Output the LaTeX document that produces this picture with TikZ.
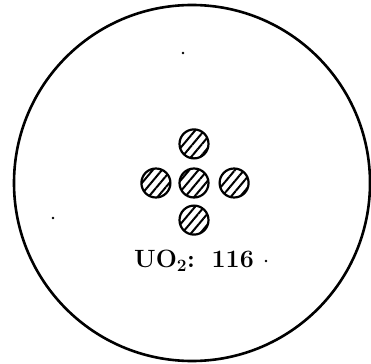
\documentclass[tikz,border=0pt]{standalone}
\usepackage{tikz}
\usetikzlibrary{positioning,patterns.meta}

\begin{document}
\begin{tikzpicture}[x=1pt, y=-1pt,
          every node/.style={inner sep=0pt},
          vessel/.style={draw, circle, line width=2.6pt, minimum size=356pt},
          pin/.style={draw, circle, line width=2.2pt, minimum size=29pt,
            pattern={Lines[angle=50, distance=7pt, line width=2pt]}},
          lab/.style={font=\fontsize{25}{28}\selectfont\bfseries},
          speck/.style={fill, circle, minimum size=2.6pt},
        ]
          \useasboundingbox (0,0) rectangle (371,363);
          \node[vessel] (core) at (192,183) {};
          \node[pin] (mid)   at (194,183) {};
          \node[pin, above=8pt of mid] (up)    {};
          \node[pin, below=6pt of mid] (down)  {};
          \node[pin, left=7pt of mid]  (west)  {};
          \node[pin, right=9pt of mid] (east)  {};
          \node[lab, below=14pt of down] (fuel) {UO$_\mathbf{2}$:\, 116};
          % stray dots of the original
          \node[speck] (d1) at (183,53) {};
          \node[speck] (d2) at (53,218) {};
          \node[speck] (d3) at (266,261) {};
        \end{tikzpicture}
\end{document}
